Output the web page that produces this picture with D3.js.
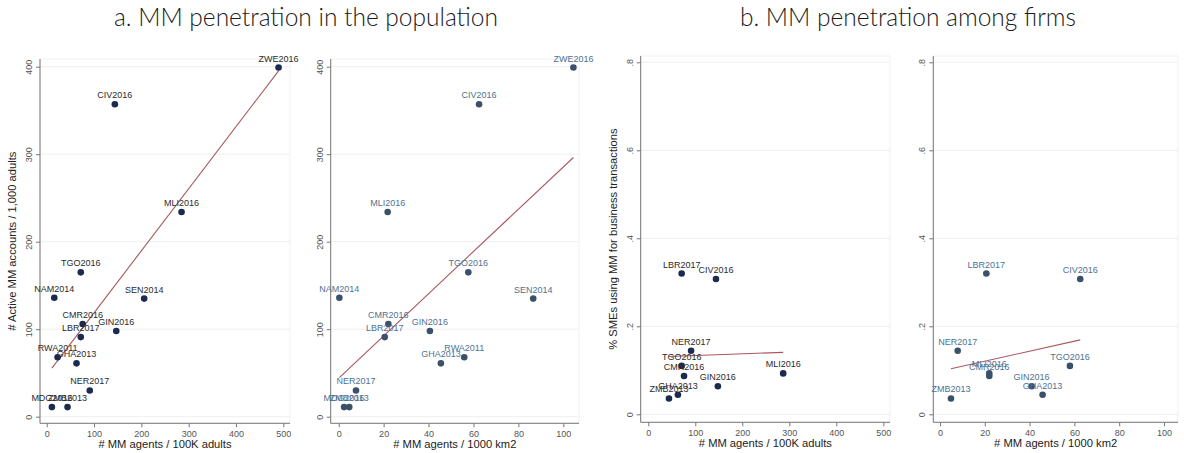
<!DOCTYPE html>
<html>
<head>
<meta charset="utf-8">
<script src="https://cdn.jsdelivr.net/npm/d3@7"></script>
<style>
  body { margin: 0; background: #fff; }
  svg { display: block; }
</style>
</head>
<body>
<svg id="chart" width="1184" height="453"></svg>
<script>
// ---- data ----
const popCountries = ["ZWE2016","CIV2016","MLI2016","TGO2016","NAM2014","SEN2014","CMR2016","GIN2016","LBR2017","RWA2011","GHA2013","NER2017","MDG2016","ZMB2013"];
const popAccounts  = [399, 357, 234, 165, 136, 135, 106, 98, 91, 68, 61, 30, 11, 11];
const popAgentsAdults = [490, 144, 285, 72, 16, 206, 76, 147, 72, 23, 63, 91, 11, 44];
const popAgentsKm2    = [104.5, 62.5, 21.8, 57.7, 0.3, 86.6, 22.1, 40.6, 20.5, 55.9, 45.5, 7.7, 2.4, 4.7];

const firmCountries = ["LBR2017","CIV2016","NER2017","TGO2016","CMR2016","MLI2016","GIN2016","GHA2013","ZMB2013"];
const firmShare     = [0.320, 0.3075, 0.1445, 0.110, 0.087, 0.093, 0.0636, 0.0445, 0.036];
const firmAgentsAdults = [71, 144, 91, 71, 76, 287, 148, 63, 44];
const firmAgentsKm2    = [20.7, 62.6, 7.9, 58, 22, 22, 40.9, 45.8, 4.9];

const popYTicks  = [0, 100, 200, 300, 400];
const firmYTicks = [0, 0.2, 0.4, 0.6, 0.8];
const firmYTickLabels = ["0", ".2", ".4", ".6", ".8"];
const adultsXTicks = [0, 100, 200, 300, 400, 500];
const km2XTicks    = [0, 20, 40, 60, 80, 100];

const titles = ["a. MM penetration in the population", "b. MM penetration among firms"];

// ---- drawing ----
const svg = d3.select("#chart");
const FONT = "'Liberation Sans', Arial, sans-serif";

svg.append("g").selectAll("text").data(titles).join("text")
  .attr("x", (d, i) => i === 0 ? 306 : 908)
  .attr("y", 26)
  .attr("text-anchor", "middle")
  .attr("font-family", "Lato, 'Open Sans', sans-serif")
  .attr("font-weight", 300)
  .attr("font-size", 24.5)
  .attr("fill", "#1a1a1a")
  .text(d => d);

function linfit(xs, ys) {
  const n = xs.length, mx = d3.mean(xs), my = d3.mean(ys);
  let num = 0, den = 0;
  for (let i = 0; i < n; i++) { num += (xs[i]-mx)*(ys[i]-my); den += (xs[i]-mx)*(xs[i]-mx); }
  const b = num/den; return {a: my - b*mx, b};
}

function panel(cfg) {
  const g = svg.append("g");
  const x = d3.scaleLinear().domain(cfg.xDomain).range(cfg.xRange);
  const y = d3.scaleLinear().domain(cfg.yDomain).range(cfg.yRange);
  const {left, right, top, bottom} = cfg.box;

  g.append("rect").attr("x", left).attr("y", top).attr("width", right-left).attr("height", bottom-top)
    .attr("fill", "#fff").attr("stroke", "#f1f1f1").attr("stroke-width", 1);

  g.append("g").selectAll("line").data(cfg.yTicks).join("line")
    .attr("x1", left).attr("x2", right)
    .attr("y1", d => y(d)).attr("y2", d => y(d))
    .attr("stroke", "#efefef").attr("stroke-width", 1);

  const ya = g.append("g").attr("transform", `translate(${left},0)`)
    .call(d3.axisLeft(y).tickValues(cfg.yTicks).tickFormat((d, i) => cfg.yTickLabels[i]).tickSize(4).tickSizeOuter(0));
  ya.select(".domain").attr("d", `M0,${top}V${bottom}`).attr("stroke", "#777");
  ya.selectAll(".tick line").attr("stroke", "#777");
  ya.selectAll(".tick text")
    .attr("font-family", FONT).attr("font-size", 9).attr("fill", "#555")
    .attr("x", null).attr("dy", null)
    .attr("text-anchor", "middle")
    .attr("transform", "translate(-8,0) rotate(-90)")
    .attr("y", 0);

  const xa = g.append("g").attr("transform", `translate(0,${bottom})`)
    .call(d3.axisBottom(x).tickValues(cfg.xTicks).tickSize(4).tickSizeOuter(0));
  xa.select(".domain").attr("d", `M${left},0H${right}`).attr("stroke", "#777");
  xa.selectAll(".tick line").attr("stroke", "#777");
  xa.selectAll(".tick text").attr("font-family", FONT).attr("font-size", 9).attr("fill", "#555").attr("y", 7);

  g.append("text").attr("x", (left+right)/2).attr("y", bottom + 25)
    .attr("text-anchor", "middle").attr("font-family", FONT).attr("font-size", 11.2).attr("fill", "#222")
    .text(cfg.xTitle);
  if (cfg.yTitle) {
    g.append("text").attr("transform", `translate(${left-24},${(top+bottom)/2}) rotate(-90)`)
      .attr("text-anchor", "middle").attr("font-family", FONT).attr("font-size", 11.2).attr("fill", "#222")
      .text(cfg.yTitle);
  }

  const f = linfit(cfg.xs, cfg.ys);
  const x0 = d3.min(cfg.xs), x1 = d3.max(cfg.xs);
  g.append("line")
    .attr("x1", x(x0)).attr("y1", y(f.a + f.b*x0))
    .attr("x2", x(x1)).attr("y2", y(f.a + f.b*x1))
    .attr("stroke", "#a9585e").attr("stroke-width", 1.1);

  const pts = cfg.labels.map((l, i) => ({l, x: cfg.xs[i], y: cfg.ys[i]}));
  g.append("g").selectAll("circle").data(pts).join("circle")
    .attr("cx", d => x(d.x)).attr("cy", d => y(d.y)).attr("r", 3.3)
    .attr("fill", cfg.pointColor);
  g.append("g").selectAll("text").data(pts).join("text")
    .attr("x", d => x(d.x)).attr("y", d => y(d.y) - 6)
    .attr("text-anchor", "middle").attr("font-family", FONT).attr("font-size", 9)
    .attr("fill", cfg.labelColor)
    .text(d => d.l);
}

const popYRange = [416.7, 66.7];
const firmYRange = [414.3, 62.3];

panel({
  xs: popAgentsAdults, ys: popAccounts, labels: popCountries,
  xDomain: [0, 500], xRange: [46.7, 283.3], yDomain: [0, 400], yRange: popYRange,
  xTicks: adultsXTicks, yTicks: popYTicks, yTickLabels: popYTicks.map(String),
  box: {left: 40, right: 290, top: 59, bottom: 423.3},
  xTitle: "# MM agents / 100K adults", yTitle: "# Active MM accounts / 1,000 adults",
  pointColor: "#1b2a4e", labelColor: "#2b2b2b"
});
panel({
  xs: popAgentsKm2, ys: popAccounts, labels: popCountries,
  xDomain: [0, 100], xRange: [338.7, 563.3], yDomain: [0, 400], yRange: popYRange,
  xTicks: km2XTicks, yTicks: popYTicks, yTickLabels: popYTicks.map(String),
  box: {left: 330.7, right: 579, top: 59, bottom: 423.3},
  xTitle: "# MM agents / 1000 km2", yTitle: null,
  pointColor: "#3a5169", labelColor: "#4f7291"
});
panel({
  xs: firmAgentsAdults, ys: firmShare, labels: firmCountries,
  xDomain: [0, 500], xRange: [648.3, 883.3], yDomain: [0, 0.8], yRange: firmYRange,
  xTicks: adultsXTicks, yTicks: firmYTicks, yTickLabels: firmYTickLabels,
  box: {left: 640.7, right: 890, top: 56, bottom: 422.3},
  xTitle: "# MM agents / 100K adults", yTitle: "% SMEs using MM for business transactions",
  pointColor: "#1b2a4e", labelColor: "#2b2b2b"
});
panel({
  xs: firmAgentsKm2, ys: firmShare, labels: firmCountries,
  xDomain: [0, 100], xRange: [940, 1164], yDomain: [0, 0.8], yRange: firmYRange,
  xTicks: km2XTicks, yTicks: firmYTicks, yTickLabels: firmYTickLabels,
  box: {left: 933.3, right: 1178, top: 56, bottom: 422.3},
  xTitle: "# MM agents / 1000 km2", yTitle: null,
  pointColor: "#3a5169", labelColor: "#4f7291"
});
</script>
</body>
</html>
